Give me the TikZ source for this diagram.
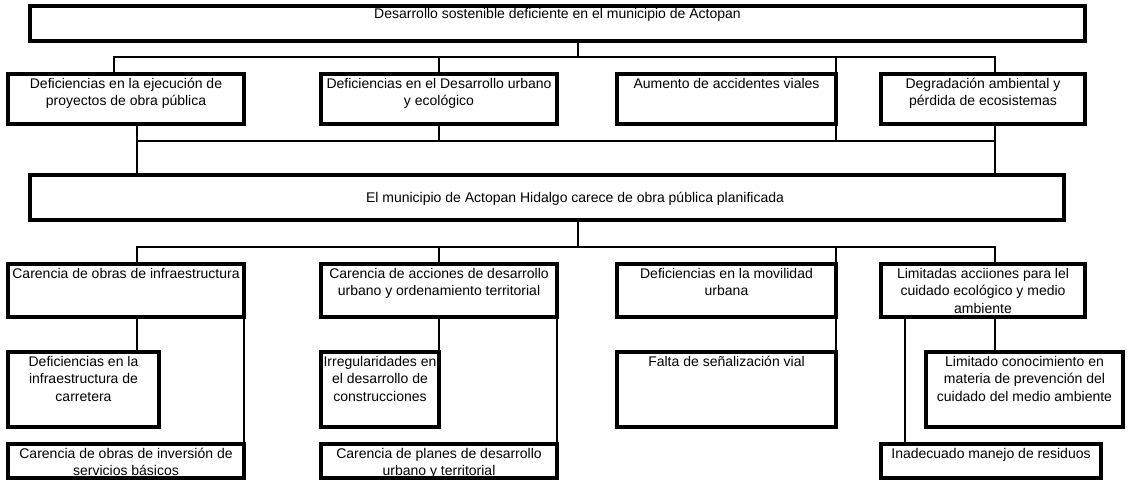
\documentclass[tikz,border=0pt]{standalone}
\usepackage{fontspec}
\setmainfont{Liberation Sans}
\newdimen\pxu
\pxu=0.75pt
\tikzstyle{stage} = [rectangle, draw, line width=2.4pt, anchor=north west, inner sep=0pt, outer sep=0pt, font=\fontsize{10.5}{13}\selectfont]
\tikzstyle{line} = [draw, line width=1.9pt]
\newcommand{\nodebox}[4][10.8pt]{\parbox[t][#3][t]{#2}{\centering\rule{0pt}{#1}#4}}

\begin{document}
\begin{tikzpicture}[x=0.75pt, y=-0.75pt]
\useasboundingbox (0,0) rectangle (1128,487);
% Effects
	%	Main effect
	\node [stage] (top) at (30,6) {\nodebox[9.5pt]{1055\pxu}{35\pxu}{Desarrollo sostenible deficiente en el municipio de Actopan}};
	%	Effects row
	\node [stage] (eff1) at (8,74) {\nodebox{236\pxu}{50\pxu}{Deficiencias en la ejecución de\\proyectos de obra pública}};
	\node [stage] (eff2) at (321,74) {\nodebox{236\pxu}{50\pxu}{Deficiencias en el Desarrollo urbano\\y ecológico}};
	\node [stage] (eff3) at (617,74) {\nodebox{219\pxu}{50\pxu}{Aumento de accidentes viales}};
	\node [stage] (eff4) at (881,74) {\nodebox{204\pxu}{50\pxu}{Degradación ambiental y\\pérdida de ecosistemas}};
% Central problem
	\node [stage] (prob) at (30,175) {\nodebox[20.6pt]{1034\pxu}{45\pxu}{\hspace*{56\pxu}El municipio de Actopan Hidalgo carece de obra pública planificada}};
% Causes
	%	Causes row
	\node [stage] (cau1) at (8,264) {\nodebox{236\pxu}{53\pxu}{Carencia de obras de infraestructura}};
	\node [stage] (cau2) at (321,264) {\nodebox{236\pxu}{53\pxu}{Carencia de acciones de desarrollo\\urbano y ordenamiento territorial}};
	\node [stage] (cau3) at (617,264) {\nodebox{219\pxu}{53\pxu}{Deficiencias en la movilidad\\urbana}};
	\node [stage] (cau4) at (881,264) {\nodebox{204\pxu}{53\pxu}{Limitadas acciiones para lel\\cuidado ecológico y medio\\ambiente}};
	%	Sub-causes
	\node [stage] (sub1) at (8,352) {\nodebox{151\pxu}{75\pxu}{Deficiencias en la\\infraestructura de\\carretera}};
	\node [stage] (sub2) at (8,444) {\nodebox{236\pxu}{34\pxu}{Carencia de obras de inversión de\\servicios básicos}};
	\node [stage] (sub3) at (321,352) {\nodebox{118\pxu}{75\pxu}{Irregularidades en\\el desarrollo de\\construcciones}};
	\node [stage] (sub4) at (321,444) {\nodebox{236\pxu}{34\pxu}{Carencia de planes de desarrollo\\urbano y territorial}};
	\node [stage] (sub5) at (617,352) {\nodebox{219\pxu}{75\pxu}{Falta de señalización vial}};
	\node [stage] (sub6) at (926,352) {\nodebox{197\pxu}{75\pxu}{Limitado conocimiento en\\materia de prevención del\\cuidado del medio ambiente}};
	\node [stage] (sub7) at (881,444) {\nodebox{220\pxu}{34\pxu}{Inadecuado manejo de residuos}};

% Effects links
	\coordinate (e0) at (578,57);
	\coordinate (e1) at (114,57);
	\coordinate (e4) at (995,57);
	\path [line] (top.south -| e0) -- (e0);
	\path [line] (e1 |- eff1.north) -- (e1) -- (e4) -- (e4 |- eff4.north);
	\path [line] (eff2.north) -- (eff2.north |- e0);
	\path [line] (eff3.north east) -- (eff3.north east |- e0);
	\coordinate (p1) at (137,141);
	\coordinate (p4) at (995,141);
	\path [line] (p1 |- eff1.south) -- (p1 |- prob.north);
	\path [line] (p1) -- (p4);
	\path [line] (p4 |- eff4.south) -- (p4 |- prob.north);
	\path [line] (eff2.south) -- (eff2.south |- p1);
	\path [line] (eff3.south east) -- (eff3.south east |- p1);
% Causes links
	\coordinate (c0) at (578,247);
	\coordinate (c1) at (137,247);
	\coordinate (c4) at (995,247);
	\path [line] (prob.south -| c0) -- (c0);
	\path [line] (c1 |- cau1.north) -- (c1) -- (c4) -- (c4 |- cau4.north);
	\path [line] (cau2.north) -- (cau2.north |- c0);
	\path [line] (cau3.north east) -- (cau3.north east |- c0);
	%	Sub-causes links
	\path [line] (c1 |- cau1.south) -- (c1 |- sub1.north);
	\path [line] (cau1.south east) -- (sub2.north east);
	\path [line] (cau2.south) -- (cau2.south |- sub3.north);
	\path [line] (cau2.south east) -- (sub4.north east);
	\path [line] (cau3.south east) -- (sub5.north east);
	\path [line] (c4 |- cau4.south) -- (c4 |- sub6.north);
	\coordinate (h0) at (905,444);
	\path [line] (h0 |- cau4.south) -- (h0);
\end{tikzpicture}
\end{document}
